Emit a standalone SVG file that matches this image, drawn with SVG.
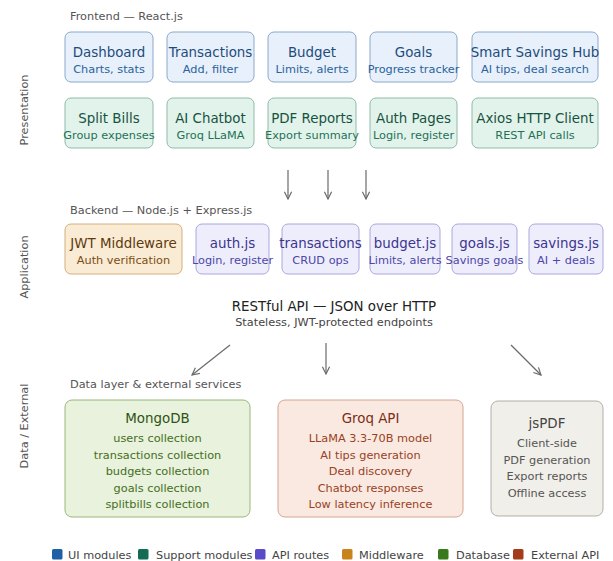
<svg xmlns="http://www.w3.org/2000/svg" width="613" height="561" viewBox="0 0 613 561">
<style>
text{font-family:"DejaVu Sans","Liberation Sans",sans-serif}
.lbl{font-size:11.3px;fill:#555}
.t{font-size:13.4px;text-anchor:middle}
.s{font-size:11.3px;text-anchor:middle}
.ui rect{fill:#e7f0fb;stroke:#7f9fc4;stroke-width:0.9}
.ui .t{fill:#1d4c7a}.ui .s{fill:#2a639c}
.sp rect{fill:#e2f3eb;stroke:#86b3a0;stroke-width:0.9}
.sp .t{fill:#17523f}.sp .s{fill:#237258}
.api rect{fill:#eeedfc;stroke:#a29ed8;stroke-width:0.9}
.api .t{fill:#3a3590}.api .s{fill:#4c47a8}
.mw rect{fill:#faebd4;stroke:#cfa673;stroke-width:0.9}
.mw .t{fill:#5e3a0c}.mw .s{fill:#7a4d12}
.db rect{fill:#e8f2dc;stroke:#8fb06e;stroke-width:0.9}
.db .t{fill:#2f5316}.db .s{fill:#456e24}
.ex rect{fill:#fae9e1;stroke:#d09c89;stroke-width:0.9}
.ex .t{fill:#7a2e14}.ex .s{fill:#98421f}
.gr rect{fill:#f1efe9;stroke:#aaa79f;stroke-width:0.9}
.gr .t{fill:#444}.gr .s{fill:#555}
.conn line{stroke:#6a6a6a;stroke-width:1.2;marker-end:url(#ah)}
.leg{font-size:11.3px;fill:#444}
</style>
<defs>
<marker id="ah" viewBox="0 0 10 10" refX="9" refY="5" markerWidth="9" markerHeight="9" markerUnits="userSpaceOnUse" orient="auto">
<path d="M1,1 L9,5 L1,9" fill="none" stroke="#6a6a6a" stroke-width="1.3"/>
</marker>
</defs>
<rect width="613" height="561" fill="#ffffff"/>

<text class="lbl" x="70" y="20">Frontend — React.js</text>
<text class="lbl" x="70" y="214">Backend — Node.js + Express.js</text>
<text class="lbl" x="70" y="388">Data layer &amp; external services</text>
<text class="lbl" transform="translate(28,110) rotate(-90)" text-anchor="middle">Presentation</text>
<text class="lbl" transform="translate(28,267) rotate(-90)" text-anchor="middle">Application</text>
<text class="lbl" transform="translate(28,426) rotate(-90)" text-anchor="middle">Data / External</text>

<g id="dashboard" class="ui"><rect x="65" y="32" width="88" height="50" rx="6"/><text class="t" x="109" y="57">Dashboard</text><text class="s" x="109" y="73">Charts, stats</text></g>
<g id="transactions-ui" class="ui"><rect x="167" y="32" width="87" height="50" rx="6"/><text class="t" x="210.5" y="57">Transactions</text><text class="s" x="210.5" y="73">Add, filter</text></g>
<g id="budget-ui" class="ui"><rect x="268" y="32" width="88" height="50" rx="6"/><text class="t" x="312" y="57">Budget</text><text class="s" x="312" y="73">Limits, alerts</text></g>
<g id="goals-ui" class="ui"><rect x="370" y="32" width="87" height="50" rx="6"/><text class="t" x="413.5" y="57">Goals</text><text class="s" x="413.5" y="73">Progress tracker</text></g>
<g id="savings-hub" class="ui"><rect x="472" y="32" width="126" height="50" rx="6"/><text class="t" x="535" y="57">Smart Savings Hub</text><text class="s" x="535" y="73">AI tips, deal search</text></g>

<g id="split-bills" class="sp"><rect x="65" y="98" width="88" height="50" rx="6"/><text class="t" x="109" y="123">Split Bills</text><text class="s" x="109" y="139">Group expenses</text></g>
<g id="ai-chatbot" class="sp"><rect x="167" y="98" width="87" height="50" rx="6"/><text class="t" x="210.5" y="123">AI Chatbot</text><text class="s" x="210.5" y="139">Groq LLaMA</text></g>
<g id="pdf-reports" class="sp"><rect x="268" y="98" width="88" height="50" rx="6"/><text class="t" x="312" y="123">PDF Reports</text><text class="s" x="312" y="139">Export summary</text></g>
<g id="auth-pages" class="sp"><rect x="370" y="98" width="87" height="50" rx="6"/><text class="t" x="413.5" y="123">Auth Pages</text><text class="s" x="413.5" y="139">Login, register</text></g>
<g id="axios" class="sp"><rect x="472" y="98" width="126" height="50" rx="6"/><text class="t" x="535" y="123">Axios HTTP Client</text><text class="s" x="535" y="139">REST API calls</text></g>

<g id="jwt" class="mw"><rect x="65" y="224" width="117" height="50" rx="6"/><text class="t" x="123.5" y="248">JWT Middleware</text><text class="s" x="123.5" y="264">Auth verification</text></g>
<g id="auth-js" class="api"><rect x="196" y="224" width="73" height="50" rx="6"/><text class="t" x="232.5" y="248">auth.js</text><text class="s" x="232.5" y="264">Login, register</text></g>
<g id="transactions-js" class="api"><rect x="282" y="224" width="77" height="50" rx="6"/><text class="t" x="320.5" y="248">transactions</text><text class="s" x="320.5" y="264">CRUD ops</text></g>
<g id="budget-js" class="api"><rect x="370" y="224" width="70" height="50" rx="6"/><text class="t" x="405" y="248">budget.js</text><text class="s" x="405" y="264">Limits, alerts</text></g>
<g id="goals-js" class="api"><rect x="452" y="224" width="65" height="50" rx="6"/><text class="t" x="484.5" y="248">goals.js</text><text class="s" x="484.5" y="264">Savings goals</text></g>
<g id="savings-js" class="api"><rect x="529" y="224" width="74" height="50" rx="6"/><text class="t" x="566" y="248">savings.js</text><text class="s" x="566" y="264">AI + deals</text></g>

<g id="restful">
<text x="334" y="311" style="font-size:13.4px;text-anchor:middle;fill:#222">RESTful API — JSON over HTTP</text>
<text x="334" y="326" style="font-size:11.3px;text-anchor:middle;fill:#444">Stateless, JWT-protected endpoints</text>
</g>

<g id="mongodb" class="db"><rect x="65" y="400" width="185" height="117" rx="7"/>
<text class="t" x="157.5" y="423">MongoDB</text>
<text class="s" x="157.5" y="442">users collection</text>
<text class="s" x="157.5" y="459">transactions collection</text>
<text class="s" x="157.5" y="475">budgets collection</text>
<text class="s" x="157.5" y="492">goals collection</text>
<text class="s" x="157.5" y="508">splitbills collection</text></g>
<g id="groq" class="ex"><rect x="278" y="400" width="185" height="117" rx="7"/>
<text class="t" x="370.5" y="423">Groq API</text>
<text class="s" x="370.5" y="442">LLaMA 3.3-70B model</text>
<text class="s" x="370.5" y="459">AI tips generation</text>
<text class="s" x="370.5" y="475">Deal discovery</text>
<text class="s" x="370.5" y="492">Chatbot responses</text>
<text class="s" x="370.5" y="508">Low latency inference</text></g>
<g id="jspdf" class="gr"><rect x="491" y="401" width="112" height="115" rx="7"/>
<text class="t" x="547" y="428">jsPDF</text>
<text class="s" x="547" y="447">Client-side</text>
<text class="s" x="547" y="464">PDF generation</text>
<text class="s" x="547" y="480">Export reports</text>
<text class="s" x="547" y="497">Offline access</text></g>

<g id="connectors" class="conn">
<line x1="288" y1="170" x2="288" y2="199"/>
<line x1="328" y1="170" x2="328" y2="199"/>
<line x1="366" y1="170" x2="366" y2="199"/>
<line x1="230" y1="345" x2="192" y2="375"/>
<line x1="326" y1="343" x2="326" y2="374"/>
<line x1="511" y1="345" x2="541" y2="375"/>
</g>

<g id="legend">
<rect x="52" y="549" width="10.5" height="10.5" rx="1.5" fill="#1f5fa6"/><text class="leg" x="68" y="558.5">UI modules</text>
<rect x="138" y="549" width="10.5" height="10.5" rx="1.5" fill="#136b53"/><text class="leg" x="156" y="558.5">Support modules</text>
<rect x="255" y="549" width="10.5" height="10.5" rx="1.5" fill="#5a4bc8"/><text class="leg" x="272" y="558.5">API routes</text>
<rect x="342" y="549" width="10.5" height="10.5" rx="1.5" fill="#c9831c"/><text class="leg" x="359" y="558.5">Middleware</text>
<rect x="438" y="549" width="10.5" height="10.5" rx="1.5" fill="#3a781c"/><text class="leg" x="456" y="558.5">Database</text>
<rect x="513" y="549" width="10.5" height="10.5" rx="1.5" fill="#a43c1c"/><text class="leg" x="531" y="558.5">External API</text>
</g>
</svg>
